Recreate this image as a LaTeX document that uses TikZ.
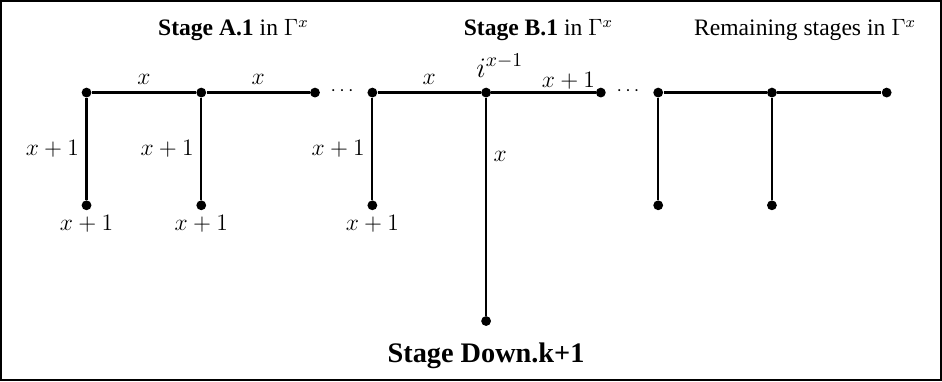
\documentclass[tikz,border=0pt]{standalone}
\usepackage{fontspec}
\setmainfont{Liberation Serif}
\usepackage{tikz}
\usetikzlibrary{positioning}

\begin{document}
\begin{tikzpicture}[x = 0.018cm, y = -0.018cm,
        Dot/.style = {circle, fill = black, inner sep = 0pt, minimum size = 5pt},
        Edge/.style = {line width = 1.1pt},
        Lbl/.style = {font = \large}]
        \draw [line width = 1pt] (4,4) rectangle (938,381);
        % stage A.1
        \node [Dot] (a1) at (89,95) {};
        \node [Dot] (a2) at (203,95) {};
        \node [Dot] (a3) at (316,95) {};
        \node [Dot, label = {[Lbl, inner sep = 2pt]below:$x+1$}] (a1d) at (89,207) {};
        \node [Dot, label = {[Lbl, inner sep = 2pt]below:$x+1$}] (a2d) at (203,207) {};
        \node (dotsa) at (343,94) {$\cdots$};
        % stage B.1
        \node [Dot] (b1) at (373,95) {};
        \node [Dot, label = {[font = \Large, inner sep = 5pt, xshift = 7pt]above:$i^{x-1}$}] (b2) at (486,95) {};
        \node [Dot] (b3) at (600,95) {};
        \node [Dot, label = {[Lbl, inner sep = 2pt]below:$x+1$}] (b1d) at (373,207) {};
        \node [Dot] (b2d) at (486,322) {};
        \node (dotsb) at (627,94) {$\cdots$};
        % remaining stages
        \node [Dot] (c1) at (657,95) {};
        \node [Dot] (c2) at (770,95) {};
        \node [Dot] (c3) at (884,95) {};
        \node [Dot] (c1d) at (657,207) {};
        \node [Dot] (c2d) at (770,207) {};

        \draw [Edge] (a1) -- node [above, Lbl] {$x$} (a2) -- node [above, Lbl] {$x$} (a3);
        \draw [Edge] (a1) -- node [left, Lbl] {$x+1$} (a1d);
        \draw [Edge] (a2) -- node [left, Lbl] {$x+1$} (a2d);
        \draw [Edge] (b1) -- node [above, Lbl] {$x$} (b2) -- node [above, Lbl, pos = 0.74, inner sep = 1pt] {$x+1$} (b3);
        \draw [Edge] (b1) -- node [left, Lbl] {$x+1$} (b1d);
        \draw [Edge] (b2) -- node [right, Lbl, pos = 0.27] {$x$} (b2d);
        \draw [Edge] (c1) -- (c2) -- (c3);
        \draw [Edge] (c1) -- (c1d);
        \draw [Edge] (c2) -- (c2d);

        \node [font = \large] (titlea) at (235,33) {\textbf{Stage A.1} in $\Gamma^x$};
        \node [font = \large] (titleb) at (538,33) {\textbf{Stage B.1} in $\Gamma^x$};
        \node [font = \large] (titlec) at (803,33) {Remaining stages in $\Gamma^x$};
        \node [font = \Large, below = 5pt of b2d] (down) {\textbf{Stage Down.k+1}};
    \end{tikzpicture}
\end{document}
